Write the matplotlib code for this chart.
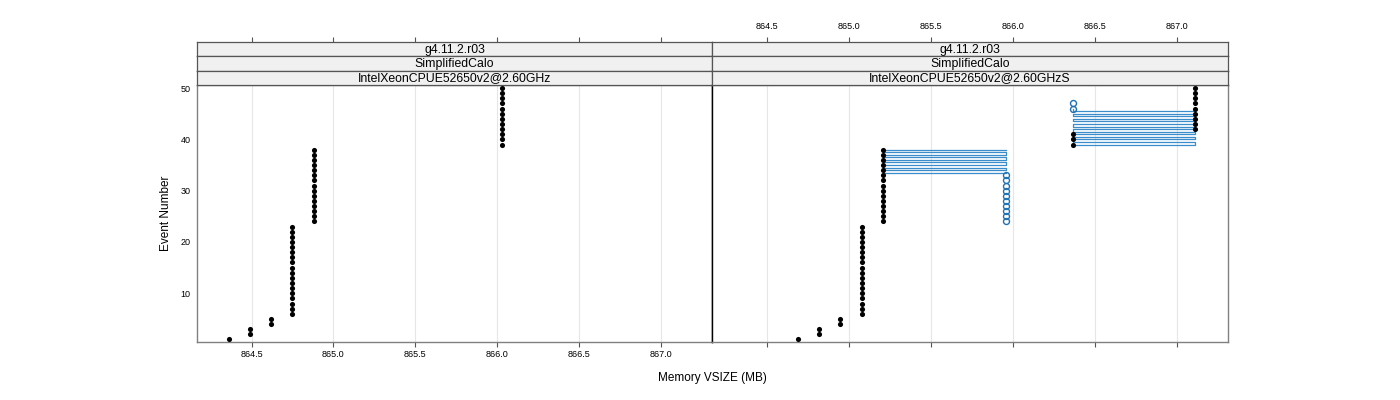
import matplotlib.pyplot as plt
import numpy as np

plt.rcParams['font.family'] = ['Liberation Sans', 'DejaVu Sans']

# -- data --
events = np.arange(1, 51)

# panel 1: IntelXeonCPUE52650v2@2.60GHz (one value per event 1..50)
vsize_p1 = [
    864.36,
    864.49, 864.49,
    864.62, 864.62,
    864.75, 864.75, 864.75, 864.75, 864.75, 864.75, 864.75, 864.75, 864.75,
    864.75, 864.75, 864.75, 864.75, 864.75, 864.75, 864.75, 864.75, 864.75,
    864.88, 864.88, 864.88, 864.88, 864.88, 864.88, 864.88, 864.88,
    864.88, 864.88, 864.88, 864.88, 864.88, 864.88, 864.88,
    866.03, 866.03, 866.03, 866.03, 866.03, 866.03,
    866.03, 866.03, 866.03, 866.03, 866.03, 866.03,
]

# panel 2: IntelXeonCPUE52650v2@2.60GHzS, black series
vsize_p2 = [
    864.69,
    864.82, 864.82,
    864.95, 864.95,
    865.08, 865.08, 865.08, 865.08, 865.08, 865.08, 865.08, 865.08, 865.08,
    865.08, 865.08, 865.08, 865.08, 865.08, 865.08, 865.08, 865.08, 865.08,
    865.21, 865.21, 865.21, 865.21, 865.21, 865.21, 865.21, 865.21,
    865.21, 865.21, 865.21, 865.21, 865.21, 865.21, 865.21,
    866.37, 866.37, 866.37,
    867.11, 867.11, 867.11, 867.11, 867.11, 867.11, 867.11, 867.11, 867.11,
]

# panel 2: blue series, visible open circles
blue_pts_x = [865.96, 865.96, 865.96, 865.96, 865.96, 865.96, 865.96, 865.96,
              865.96, 865.96, 866.37, 866.37]
blue_pts_ev = [24, 25, 26, 27, 28, 29, 30, 31, 32, 33, 46, 47]

# panel 2: blue connecting trace as it appears (nan = break)
blue_path_x = [865.96, 865.21, 865.21, 865.96, 865.96, 865.21, 865.21,
               865.96, 865.96, 865.21, 865.21, 865.96, 865.96, 865.21,
               865.21, 865.96, 865.96, 865.21, 865.21, 865.96, np.nan,
               866.37, 866.37, 867.11, 867.11, 866.37, 866.37, 867.11,
               867.11, 866.37, 866.37, 867.11, 867.11, 866.37, 866.37,
               867.11, 867.11, 866.37, 866.37, 867.11, 867.11, 866.37,
               866.37, 867.11, 867.11, 866.37, 866.37, 867.11, 867.11,
               866.37]
blue_path_ev = [33.5, 33.5, 34, 34, 34.5, 34.5, 35, 35, 35.5, 35.5, 36, 36,
                36.5, 36.5, 37, 37, 37.5, 37.5, 38, 38, np.nan,
                46, 45.5, 45.5, 45, 45, 44.5, 44.5, 44, 44, 43.5, 43.5, 43,
                43, 42.5, 42.5, 42, 42, 41.5, 41.5, 41, 41, 40.5, 40.5, 40,
                40, 39.5, 39.5, 39, 39]

strip_labels = [
    ["g4.11.2.r03", "SimplifiedCalo", "IntelXeonCPUE52650v2@2.60GHz"],
    ["g4.11.2.r03", "SimplifiedCalo", "IntelXeonCPUE52650v2@2.60GHzS"],
]
x_ticks = [864.5, 865.0, 865.5, 866.0, 866.5, 867.0]
y_ticks = [10, 20, 30, 40, 50]
xlim = (864.167, 867.313)
ylim = (0.5, 50.6)

BLUE = "#1f72b4"
LINE_BLUE = "#3a8ccb"
FRAME = "#808080"

# -- layout in pixels, converted to figure fractions --
W, H = 1400, 400
fig = plt.figure(figsize=(14, 4), dpi=100)

panel_cols = [(197, 712), (712, 1228)]
panel_top, panel_bot = 85, 342
strip_tops = [42, 56.33, 70.67, 85]


def rect(x0, x1, y0, y1):
    return [x0 / W, 1 - y1 / H, (x1 - x0) / W, (y1 - y0) / H]


axes = []
for i, (x0, x1) in enumerate(panel_cols):
    ax = fig.add_axes(rect(x0, x1, panel_top, panel_bot))
    ax.set_xlim(*xlim)
    ax.set_ylim(*ylim)
    ax.set_xticks(x_ticks)
    ax.set_yticks(y_ticks)
    for x in x_ticks:
        ax.axvline(x, color="#e6e6e6", lw=0.8, zorder=0)
    for sp in ax.spines.values():
        sp.set_color(FRAME)
        sp.set_linewidth(1.0)
    ax.tick_params(axis="x", direction="out", length=3.6, width=0.8,
                   color="#555555", labelsize=6.5, pad=2.5,
                   labelbottom=(i == 0))
    ax.tick_params(axis="y", length=0, labelsize=6.5, pad=4.5,
                   labelleft=(i == 0))
    axes.append(ax)

    # strips
    for j in range(3):
        sax = fig.add_axes(rect(x0, x1, strip_tops[j], strip_tops[j + 1]))
        sax.set_facecolor("#f0f0f0")
        sax.set_xlim(*xlim)
        sax.set_yticks([])
        for sp in sax.spines.values():
            sp.set_color("#555555")
            sp.set_linewidth(0.9)
        sax.text(0.5, 0.45, strip_labels[i][j], transform=sax.transAxes,
                 ha="center", va="center", fontsize=8.8)
        if j == 0:
            sax.set_xticks(x_ticks)
            sax.tick_params(axis="x", direction="out", length=3.6, width=0.8,
                            color="#555555", labelsize=6.5, pad=4,
                            top=True, bottom=False,
                            labeltop=(i == 1), labelbottom=False)
        else:
            sax.set_xticks([])

ax1, ax2 = axes

# -- panel 1 --
ax1.plot(vsize_p1, events, "o", color="black", ms=3.7, mew=0, zorder=4)

# -- panel 2 --
ax2.plot(blue_path_x, blue_path_ev, "-", color=LINE_BLUE, lw=0.9,
         zorder=2)
ax2.plot(blue_pts_x, blue_pts_ev, "o", mfc="none", mec=BLUE, ms=4.3,
         mew=1.0, zorder=3)
ax2.plot(vsize_p2, events, "o", color="black", ms=3.7, mew=0, zorder=4)

# black separator between the two panels
ax2.spines["left"].set_color("black")
ax1.spines["right"].set_color("black")

fig.text(712 / W, 1 - 378 / H, "Memory VSIZE (MB)", ha="center",
         va="center", fontsize=8.5)
fig.text(166 / W, 1 - 213 / H, "Event Number", ha="center", va="center",
         rotation=90, fontsize=8.5)

fig.savefig("out.png", dpi=100)
plt.close(fig)
